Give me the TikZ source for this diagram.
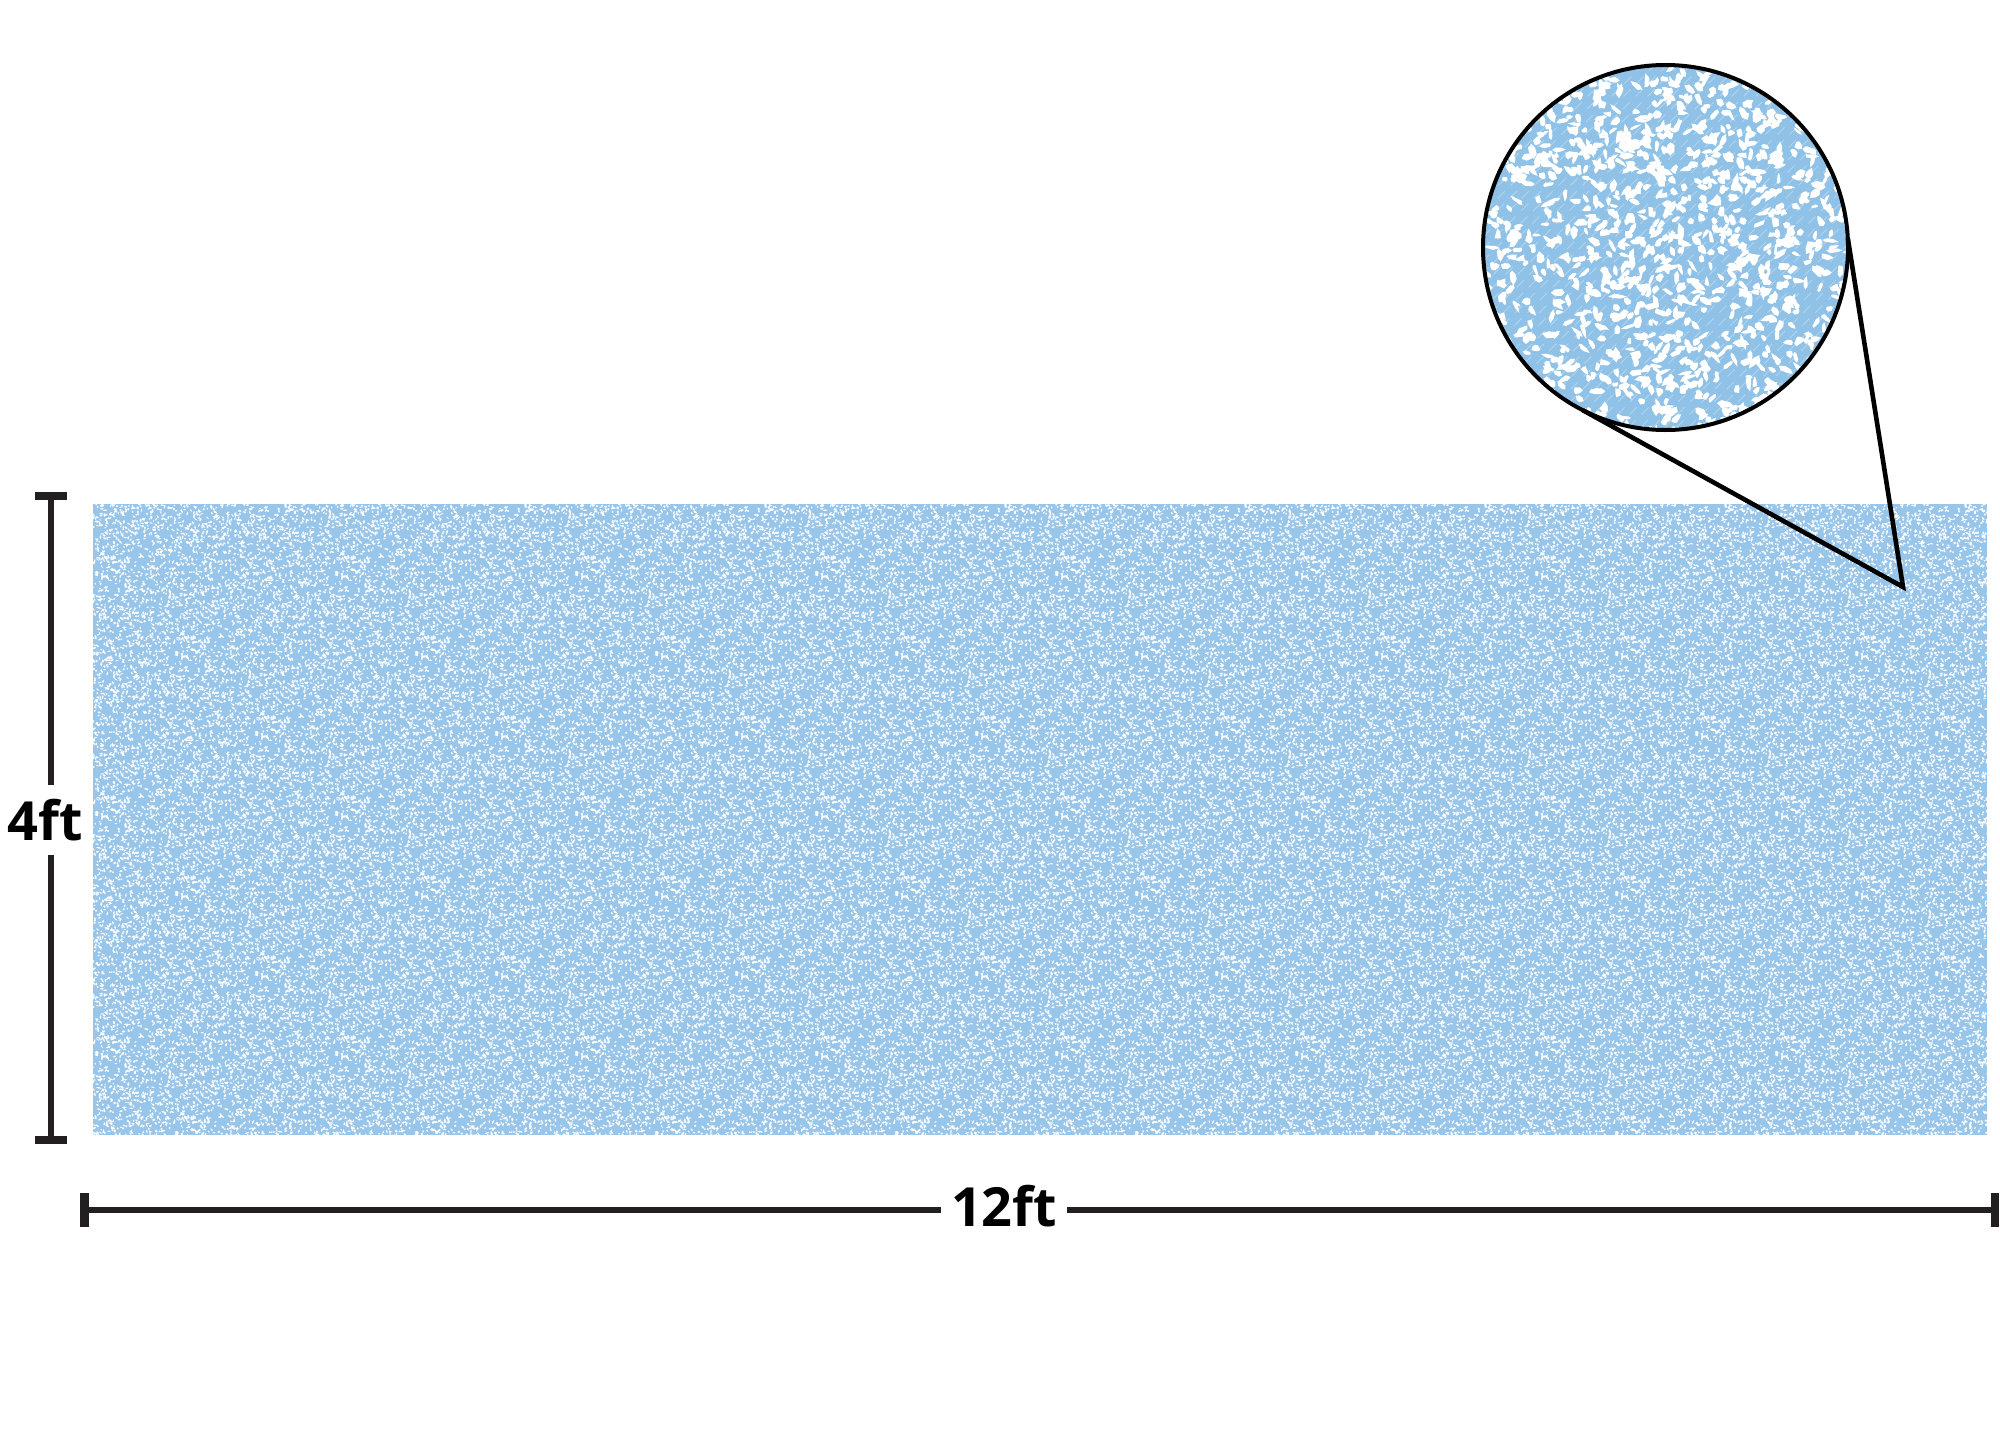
\documentclass[tikz,border=0pt]{standalone}
\usepackage{fontspec}
\newfontfamily\labfont{Open Sans}
\usetikzlibrary{calc}
\definecolor{rectblue}{HTML}{98C5EA}
\definecolor{circblue}{HTML}{90C2E8}
\definecolor{inkline}{HTML}{231F20}
\newsavebox\tilea
\newsavebox\tileb
\newsavebox\tilec
\newcount\speckn
% small rhombus speck, all in pt
\newcommand\speckshape[5]{%
  \pgfmathsetmacro\spax{#3*cos(#5)}%
  \pgfmathsetmacro\spay{#3*sin(#5)}%
  \pgfmathsetmacro\spbx{-#4*sin(#5)}%
  \pgfmathsetmacro\spby{#4*cos(#5)}%
  \pgfpathmoveto{\pgfpoint{#1 pt+\spax pt}{#2 pt+\spay pt}}%
  \pgfpathlineto{\pgfpoint{#1 pt+\spbx pt}{#2 pt+\spby pt}}%
  \pgfpathlineto{\pgfpoint{#1 pt-\spax pt}{#2 pt-\spay pt}}%
  \pgfpathlineto{\pgfpoint{#1 pt-\spbx pt}{#2 pt-\spby pt}}%
  \pgfpathclose
}
\newcommand\buildtile[1]{%
  \sbox#1{\begin{pgfpicture}%
    \pgfpathrectangle{\pgfpointorigin}{\pgfpoint{40pt}{40pt}}%
    \pgfusepath{use as bounding box}%
    \pgfsetfillcolor{white}%
    \speckn=0
    \loop
      \pgfmathsetmacro\sx{40*rnd}%
      \pgfmathsetmacro\sy{40*rnd}%
      \pgfmathsetmacro\sa{0.45+0.7*rnd}%
      \pgfmathsetmacro\sb{0.3+0.3*rnd}%
      \pgfmathsetmacro\sr{180*rnd}%
      \speckshape{\sx}{\sy}{\sa}{\sb}{\sr}%
      \advance\speckn by 1
      \ifnum\numexpr\speckn-(\speckn/50)*50\relax=0 \pgfusepath{fill}\fi
    \ifnum\speckn<500 \repeat
  \end{pgfpicture}}%
}
% irregular blob vertex (picture units)
\newcommand\blobvert[2]{%
  \pgfmathsetmacro\bu{\baa*(0.5+0.7*rnd)*cos(#1)}%
  \pgfmathsetmacro\bv{\bbb*(0.5+0.7*rnd)*sin(#1)}%
  #2{\pgfpointxy{\bxx+\bu*\bcs-\bv*\bsn}{\byy+\bu*\bsn+\bv*\bcs}}%
}
\tikzset{
  dimline/.style={draw=inkline, line width=2.6pt},
  hdimline/.style={draw=inkline, line width=3pt},
  capline/.style={draw=inkline, line width=4.2pt},
  calloutline/.style={draw=black, line width=2.3pt, line join=miter},
  dimlabel/.style={font=\labfont\bfseries\fontsize{27}{32}\selectfont, text=black, inner sep=0pt},
  tilenode/.style={anchor=north west, inner sep=0pt, outer sep=0pt},
}
\begin{document}
\pgfmathsetseed{12345}%
\buildtile\tilea\buildtile\tileb\buildtile\tilec%
\begin{tikzpicture}[x=0.5pt,y=-0.5pt]
\useasboundingbox (0,0) rectangle (2000,1429);
% textured panel
\fill[rectblue] (93,504) rectangle (1987,1135);
\begin{scope}
  \clip (93,504) rectangle (1987,1135);
  \foreach \c in {0,...,23}{
    \foreach \r in {0,...,7}{
      \pgfmathtruncatemacro\tilesel{mod(\c+2*\r,3)}
      \node[tilenode] (tile-\c-\r) at ({93+80*\c},{504+80*\r}) {\ifcase\tilesel\usebox\tilea\or\usebox\tileb\else\usebox\tilec\fi};
    }
  }
\end{scope}
% magnified circle
\begin{scope}
  \clip (1665.5,247.5) circle (182.5);
  \fill[circblue] (1665.5,247.5) circle (182.5);
  \foreach \k in {0,12,...,780}{
    \draw[white, opacity=.3, line width=0.5pt, dash pattern=on 5pt off 4pt] (1100+\k,440) -- ++(380,-380);
  }
  \pgfsetfillcolor{white}
  \speckn=0
  \loop
    \pgfmathsetmacro\bxx{1478+376*rnd}%
    \pgfmathsetmacro\byy{60+376*rnd}%
    \pgfmathsetmacro\baa{4+4.5*rnd}%
    \pgfmathsetmacro\bbb{2.2+2.3*rnd}%
    \pgfmathsetmacro\brr{180*rnd}%
    \pgfmathsetmacro\bcs{cos(\brr)}%
    \pgfmathsetmacro\bsn{sin(\brr)}%
    \blobvert{0}\pgfpathmoveto
    \blobvert{60}\pgfpathlineto
    \blobvert{120}\pgfpathlineto
    \blobvert{180}\pgfpathlineto
    \blobvert{240}\pgfpathlineto
    \blobvert{300}\pgfpathlineto
    \pgfpathclose
    \advance\speckn by 1
    \ifnum\numexpr\speckn-(\speckn/50)*50\relax=0 \pgfusepath{fill}\fi
  \ifnum\speckn<1400 \repeat
\end{scope}
\node[circle, draw=black, line width=2pt, minimum size=182.5pt, inner sep=0pt, outer sep=0pt] (mag) at (1665.5,247.5) {};
\coordinate (apex) at (1903,587);
\draw[calloutline] (mag.-117) -- (apex) -- (mag.3);
% vertical dimension
\coordinate (vt) at (51,496);
\coordinate (vb) at (51,1140);
\node[dimlabel, minimum height=35pt] (four) at (45,820) {4ft};
\draw[dimline] (vt) -- (vt |- four.north);
\draw[dimline] (vb |- four.south) -- (vb);
\draw[capline] ([xshift=-8pt]vt) -- ([xshift=8pt]vt);
\draw[capline] ([xshift=-8pt]vb) -- ([xshift=8pt]vb);
% horizontal dimension
\coordinate (hl) at (84.5,1210);
\coordinate (hr) at (1995,1210);
\node[dimlabel, minimum width=63pt] (twelve) at (1004,1206) {12ft};
\draw[hdimline] (hl) -- (hl -| twelve.west);
\draw[hdimline] (hr -| twelve.east) -- (hr);
\draw[capline] ([yshift=-8.3pt]hl) -- ([yshift=8.3pt]hl);
\draw[capline] ([yshift=-8.3pt]hr) -- ([yshift=8.3pt]hr);
\end{tikzpicture}
\end{document}
